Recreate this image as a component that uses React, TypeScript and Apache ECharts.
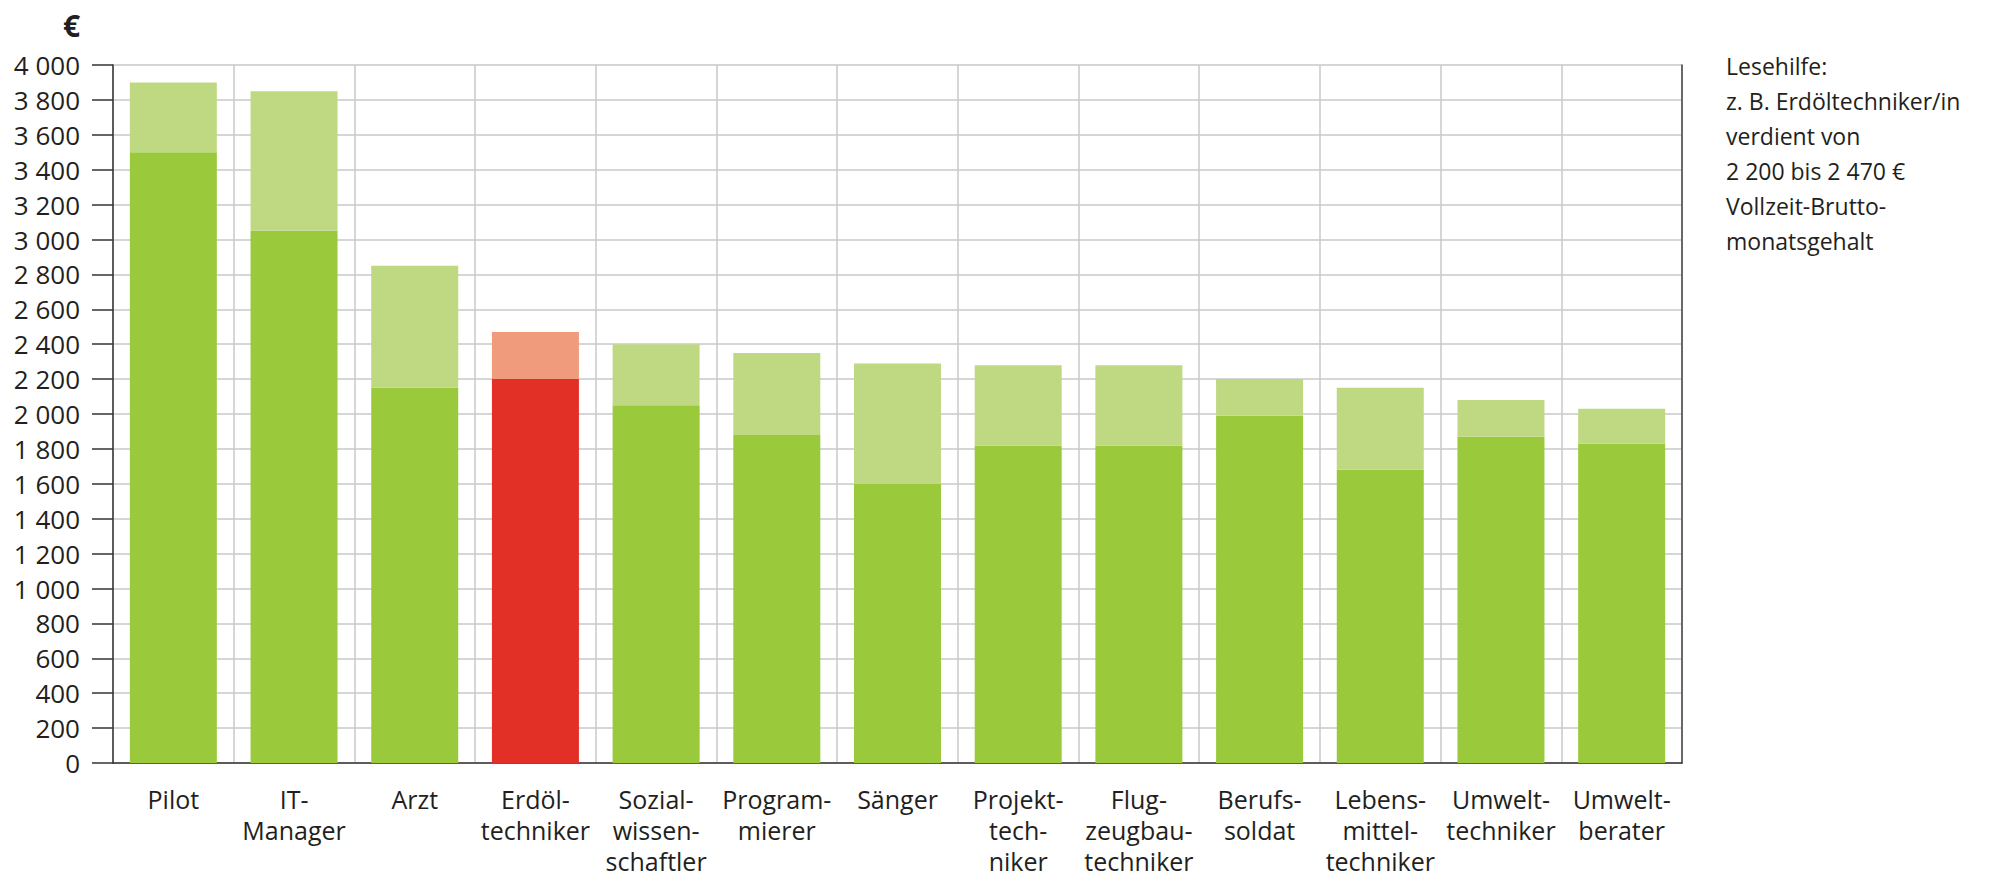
import React, { useEffect, useRef } from "react";
import * as echarts from "echarts";

const categories = [
  "Pilot",
  "IT-\nManager",
  "Arzt",
  "Erdöl-\ntechniker",
  "Sozial-\nwissen-\nschaftler",
  "Program-\nmierer",
  "Sänger",
  "Projekt-\ntech-\nniker",
  "Flug-\nzeugbau-\ntechniker",
  "Berufs-\nsoldat",
  "Lebens-\nmittel-\ntechniker",
  "Umwelt-\ntechniker",
  "Umwelt-\nberater",
];
const lowValues = [3500, 3050, 2150, 2200, 2050, 1880, 1600, 1820, 1820, 1990, 1680, 1870, 1830];
const highValues = [3900, 3850, 2850, 2470, 2400, 2350, 2290, 2280, 2280, 2200, 2150, 2080, 2030];
const highlightIndex = 3;
const yTicks = { min: 0, max: 4000, interval: 200 };
const noteLines = [
  "Lesehilfe:",
  "z. B. Erdöltechniker/in",
  "verdient von",
  "2 200 bis 2 470 €",
  "Vollzeit-Brutto-",
  "monatsgehalt",
];

const FONT = "'Open Sans', 'Noto Sans', sans-serif";
const TXT = "#231f20";
const DARK_GREEN = "#9aca3c";
const LIGHT_GREEN = "#bed982";
const DARK_RED = "#e33027";
const LIGHT_RED = "#ef9b7c";

export default function App() {
  const ref = useRef<HTMLDivElement>(null);
  useEffect(() => {
    if (!ref.current) return;
    const chart = echarts.init(ref.current, null, { renderer: "svg" });
    const lowData = lowValues.map((v, i) => ({
      value: v,
      itemStyle: { color: i === highlightIndex ? DARK_RED : DARK_GREEN },
    }));
    const highData = highValues.map((v, i) => ({
      value: v - lowValues[i],
      itemStyle: { color: i === highlightIndex ? LIGHT_RED : LIGHT_GREEN },
    }));
    chart.setOption({
      animation: false,
      backgroundColor: "#ffffff",
      grid: { left: 113, top: 65, right: 331, bottom: 110, containLabel: false },
      xAxis: {
        type: "category",
        data: categories,
        boundaryGap: true,
        axisLine: { show: true, lineStyle: { color: "#333333", width: 1.5 } },
        axisTick: { show: false },
        splitLine: { show: true, lineStyle: { color: "#c8c8c8", width: 1.5 } },
        axisLabel: {
          interval: 0,
          margin: 20,
          fontFamily: FONT,
          fontSize: 25,
          lineHeight: 31,
          color: TXT,
          align: "center",
        },
      },
      yAxis: [
        {
          type: "value",
          min: yTicks.min,
          max: yTicks.max,
          interval: yTicks.interval,
          axisLine: { show: true, lineStyle: { color: "#333333", width: 1.5 } },
          axisTick: { show: true, length: 21, lineStyle: { color: "#333333", width: 1.5 } },
          splitLine: { show: true, lineStyle: { color: "#c8c8c8", width: 1.5 } },
          axisLabel: {
            margin: 33,
            fontFamily: FONT,
            fontSize: 26,
            color: TXT,
            formatter: (v: number) => String(v).replace(/\B(?=(\d{3})+(?!\d))/g, " "),
          },
        },
        {
          type: "value",
          position: "right",
          min: yTicks.min,
          max: yTicks.max,
          interval: yTicks.interval,
          axisLine: { show: true, lineStyle: { color: "#444444", width: 1.5 } },
          axisTick: { show: false },
          splitLine: { show: false },
          axisLabel: { show: false },
        },
      ],
      series: [
        {
          type: "bar",
          stack: "salary",
          barWidth: 87,
          data: lowData,
        },
        {
          type: "bar",
          stack: "salary",
          barWidth: 87,
          data: highData,
        },
      ],
      graphic: [
        {
          type: "text",
          left: 63,
          top: 10,
          style: { text: "€", fontFamily: FONT, fontSize: 30, fontWeight: "bold", fill: TXT },
        },
        {
          type: "text",
          left: 1726,
          top: 48,
          style: {
            text: noteLines.join("\n"),
            fontFamily: FONT,
            fontSize: 23,
            lineHeight: 35,
            fill: TXT,
          },
        },
      ],
    });
    return () => chart.dispose();
  }, []);
  return (
    <div
      ref={ref}
      style={{ position: "fixed", left: 0, top: 0, width: 2013, height: 876, background: "#fff" }}
    />
  );
}
